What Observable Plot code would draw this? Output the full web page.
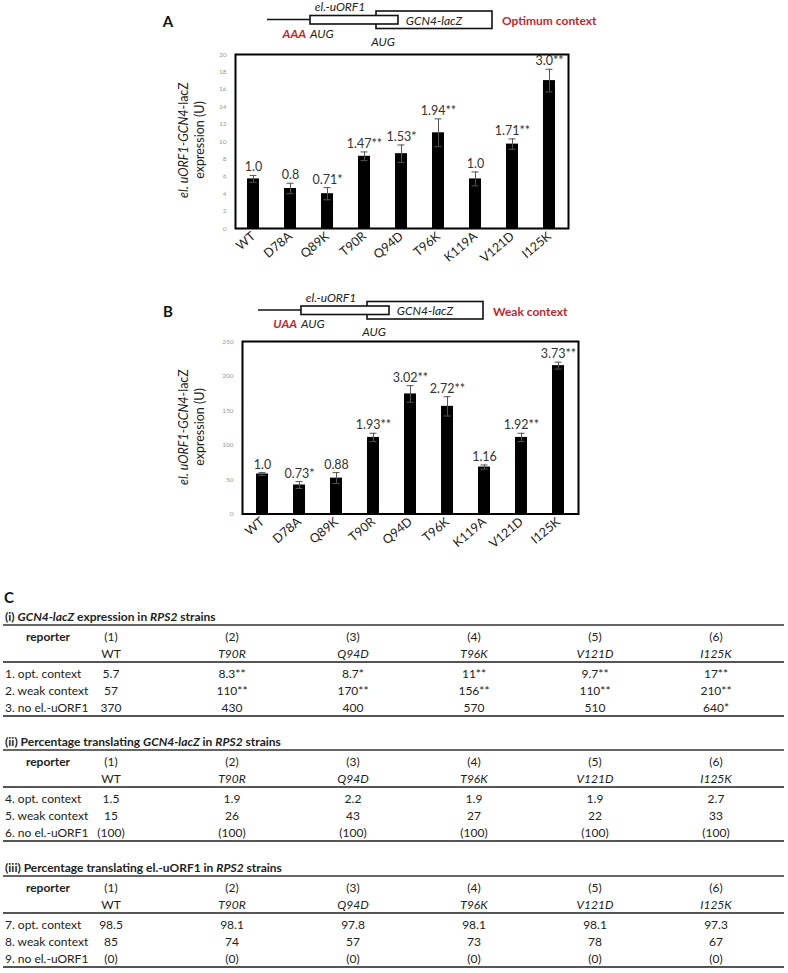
<!DOCTYPE html>
<html><head><meta charset="utf-8">
<script src="https://cdn.jsdelivr.net/npm/d3@7"></script>
<script src="https://cdn.jsdelivr.net/npm/@observablehq/plot@0.6"></script>
<style>
body{margin:0;background:#fff;}
#page{position:relative;width:788px;height:973px;overflow:hidden;font-family:Lato,"Open Sans",sans-serif;color:#222;}
.abs{position:absolute;white-space:nowrap;line-height:1;}
</style></head><body><div id="page"></div>
<script>
// ---------- data ----------
const mutants = ["WT","D78A","Q89K","T90R","Q94D","T96K","K119A","V121D","I125K"];
const optValues = [5.7,4.6,4.0,8.3,8.6,11.0,5.7,9.7,17.0];
const optErrors = [0.4,0.6,0.7,0.5,1.0,1.6,0.8,0.6,1.3];
const optLabels = ["1.0","0.8","0.71*","1.47**","1.53*","1.94**","1.0","1.71**","3.0**"];
const weakValues = [58,42,52,111,174,156,68,111,215];
const weakErrors = [2,5,8,6,12,14,3,6,5];
const weakLabels = ["1.0","0.73*","0.88","1.93**","3.02**","2.72**","1.16","1.92**","3.73**"];
const yTicksA = [0,2,4,6,8,10,12,14,16,18,20];
const yTicksB = [0,50,100,150,200,250];

const colNumbers = ["(1)","(2)","(3)","(4)","(5)","(6)"];
const colStrains = ["WT","T90R","Q94D","T96K","V121D","I125K"];
const rowsI = ["1. opt. context","2. weak context","3. no el.-uORF1"];
const valsI = [["5.7","8.3**","8.7*","11**","9.7**","17**"],
               ["57","110**","170**","156**","110**","210**"],
               ["370","430","400","570","510","640*"]];
const rowsII = ["4. opt. context","5. weak context","6. no el.-uORF1"];
const valsII = [["1.5","1.9","2.2","1.9","1.9","2.7"],
                ["15","26","43","27","22","33"],
                ["(100)","(100)","(100)","(100)","(100)","(100)"]];
const rowsIII = ["7. opt. context","8. weak context","9. no el.-uORF1"];
const valsIII = [["98.5","98.1","97.8","98.1","98.1","97.3"],
                 ["85","74","57","73","78","67"],
                 ["(0)","(0)","(0)","(0)","(0)","(0)"]];
const titleI = "(i) <i>GCN4-lacZ</i> expression in <i>RPS2</i> strains";
const titleII = "(ii) Percentage translating <i>GCN4-lacZ</i> in <i>RPS2</i> strains";
const titleIII = "(iii) Percentage translating el.-uORF1 in <i>RPS2</i> strains";

// ---------- helpers ----------
const FONT = 'Lato,"Open Sans",sans-serif';
const page = document.getElementById("page");
function put(html, x, y, o = {}) {
  const d = document.createElement("div");
  d.className = "abs";
  d.innerHTML = html;
  d.style.left = x + "px"; d.style.top = y + "px";
  d.style.fontSize = (o.size || 12) + "px";
  d.style.fontWeight = o.weight || "normal";
  d.style.fontStyle = o.style || "normal";
  d.style.color = o.color || "#222";
  const a = o.anchor || "middle";
  const tx = a === "start" ? "0" : a === "end" ? "-100%" : "-50%";
  d.style.transform = `translate(${tx},-50%)`;
  page.appendChild(d);
  return d;
}
function hline(x1, x2, y, w, color) {
  const d = document.createElement("div");
  d.className = "abs";
  d.style.left = x1 + "px"; d.style.top = (y - w / 2) + "px";
  d.style.width = (x2 - x1) + "px"; d.style.height = w + "px";
  d.style.background = color;
  page.appendChild(d);
}

// ---------- panel letters ----------
put("A", 168, 21, {size: 15, weight: "bold", color: "#111"});
put("B", 168, 311, {size: 15, weight: "bold", color: "#111"});
put("C", 9, 597, {size: 15, weight: "bold", color: "#111"});

// ---------- construct diagrams ----------
const RED = "#c0282d";
const overlay = d3.select(page).append("svg")
  .attr("width", 788).attr("height", 973)
  .style("position", "absolute").style("left", 0).style("top", 0)
  .style("font-family", FONT);
function diagram(dx, dy, codon, ctx) {
  const g = overlay.append("g").attr("transform", `translate(${dx},${dy})`);
  g.append("line").attr("x1", 267).attr("x2", 310).attr("y1", 19.5).attr("y2", 19.5)
    .attr("stroke", "#111").attr("stroke-width", 1.6);
  g.append("rect").attr("x", 376).attr("y", 11).attr("width", 116).attr("height", 17.5)
    .attr("fill", "white").attr("stroke", "#111").attr("stroke-width", 1.6);
  g.append("rect").attr("x", 310).attr("y", 15.5).attr("width", 88).attr("height", 8.5)
    .attr("fill", "white").attr("stroke", "#111").attr("stroke-width", 1.6);
  const t = (txt, x, y, o = {}) => g.append("text").attr("x", x).attr("y", y)
    .attr("text-anchor", o.anchor || "middle").attr("dominant-baseline", "central")
    .attr("font-size", o.size || 11.5).attr("font-style", o.style || "italic")
    .attr("font-weight", o.weight || "normal").attr("fill", o.fill || "#222").text(txt);
  t("el.-uORF1", 340, 6.5, {size: 12});
  t("GCN4-lacZ", 434, 20, {size: 12});
  t(codon, 306, 33, {anchor: "end", fill: RED, weight: "bold", size: 12});
  t("AUG", 310, 33, {anchor: "start", size: 12});
  t("AUG", 383, 41, {size: 12});
  t(ctx, 502, 20.5, {anchor: "start", style: "normal", weight: "bold", fill: RED, size: 12});
}
diagram(0, 0, "AAA", "Optimum context");
diagram(-9, 290.5, "UAA", "Weak context");

// ---------- bar charts ----------
function chart(values, errors, labels, ticks, box, titleXY) {
  const data = mutants.map((m, i) => ({m, v: values[i], e: errors[i], lab: labels[i]}));
  const svg = Plot.plot({
    width: box.w, height: box.h,
    marginLeft: box.ml, marginRight: box.mr, marginTop: box.mt, marginBottom: box.mb,
    style: {fontFamily: FONT, background: "transparent", overflow: "visible", color: "#222"},
    x: {domain: mutants, paddingInner: 0.67, paddingOuter: 0.335},
    y: {domain: [ticks[0], ticks[ticks.length - 1]]},
    marks: [
      Plot.barY(data, {x: "m", y: "v", fill: "black"}),
      Plot.ruleX(data, {x: "m", y1: d => d.v - d.e, y2: d => d.v + d.e, stroke: "#555", strokeWidth: 1}),
      Plot.tickY(data, {x: "m", y: d => d.v + d.e, stroke: "#555", insetLeft: 2.5, insetRight: 2.5}),
      Plot.tickY(data, {x: "m", y: d => d.v - d.e, stroke: "#555", insetLeft: 2.5, insetRight: 2.5}),
      Plot.text(data, {x: "m", y: d => d.v + d.e, text: "lab", lineAnchor: "bottom", dy: -4,
        fontSize: 12.5, fill: "#333"}),
      Plot.axisY({ticks, tickSize: 0, tickPadding: 9, fontSize: 6.5, color: "#999", label: null}),
      Plot.axisX({tickSize: 0, tickPadding: 6, tickRotate: -40, fontSize: 12.5, color: "#222", label: null}),
      Plot.frame({stroke: "black", strokeWidth: 2})
    ]
  });
  svg.style.position = "absolute";
  svg.style.left = box.x + "px"; svg.style.top = box.y + "px";
  page.appendChild(svg);
  const s = d3.select(svg);
  const tt = s.append("text").attr("transform", `translate(${titleXY[0]},${titleXY[1]}) rotate(-90)`)
    .attr("text-anchor", "middle").attr("font-size", 12.5).attr("fill", "#222");
  tt.append("tspan").attr("x", 0).attr("dy", "0em").attr("font-style", "italic").text("el. uORF1-GCN4");
  tt.append("tspan").text("-lacZ");
  tt.append("tspan").attr("x", 0).attr("dy", "1.25em").text("expression (U)");
}
chart(optValues, optErrors, optLabels, yTicksA,
  {x: 150, y: 40, w: 430, h: 260, ml: 85, mr: 12, mt: 14, mb: 72}, [38, 100]);
chart(weakValues, weakErrors, weakLabels, yTicksB,
  {x: 150, y: 325, w: 440, h: 260, ml: 92, mr: 12, mt: 16, mb: 71.5}, [38, 102]);

// ---------- table C ----------
const colX = [111, 232, 353, 474, 595, 716];
function section(y0, title, rows, vals) {
  put(title, 5, y0, {anchor: "start", size: 12, weight: "bold"});
  hline(3, 784, y0 + 8, 2, "#666");
  put("reporter", 48, y0 + 20, {size: 12, weight: "bold"});
  colNumbers.forEach((c, i) => put(c, colX[i], y0 + 20));
  colStrains.forEach((c, i) => put(c, colX[i], y0 + 37, {style: i === 0 ? "normal" : "italic"}));
  hline(3, 784, y0 + 45, 1.6, "#555");
  rows.forEach((r, j) => {
    put(r, 5, y0 + 57 + 17 * j, {anchor: "start"});
    vals[j].forEach((v, i) => put(v, colX[i], y0 + 57 + 17 * j));
  });
  hline(3, 784, y0 + 99, 1.6, "#555");
}
section(617, titleI, rowsI, valsI);
section(742, titleII, rowsII, valsII);
section(868, titleIII, rowsIII, valsIII);
</script></body></html>
